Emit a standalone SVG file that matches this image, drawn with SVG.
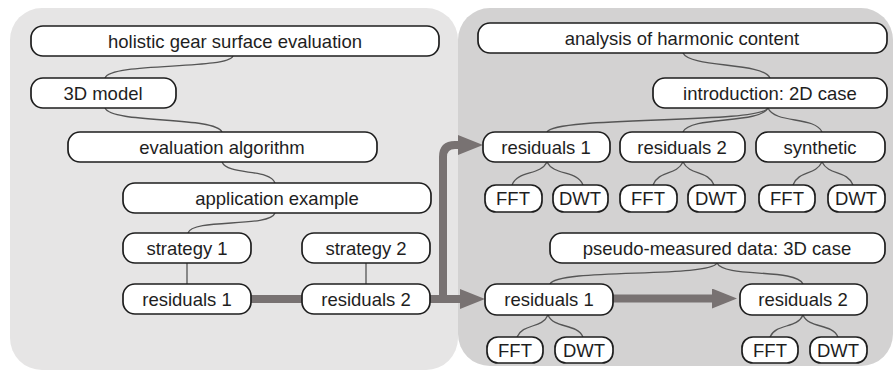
<svg xmlns="http://www.w3.org/2000/svg" width="895" height="371" viewBox="0 0 895 371">
<style>
.node rect{fill:#fff;stroke:#1e1e1e;stroke-width:1.7}
.node text{font-family:"Liberation Sans",Arial,sans-serif;font-size:18.5px;fill:#1e1e1e;text-anchor:middle}
.thin path{fill:none;stroke:#555;stroke-width:1.3}
.thick path{fill:none;stroke:#787272;stroke-width:8}
</style>
<defs>
<marker id="ah" markerUnits="userSpaceOnUse" viewBox="0 0 25 20" refX="0" refY="10" markerWidth="25" markerHeight="20" orient="auto">
<path d="M0,0 L25,10 L0,20 z" fill="#787272"/>
</marker>
</defs>
<rect x="458" y="8" width="435" height="358" rx="32" fill="#d3d2d2"/>
<rect x="10" y="8" width="448" height="362" rx="32" fill="#e6e5e5"/>

<g id="connectors">
<g class="thin">
<path d="M233,56 C228,70 110,62 105,78"/>
<path d="M105,108 C112,124 215,116 222,132"/>
<path d="M222,162 C228,176 270,168 275,183"/>
<path d="M275,213 C270,228 192,218 188,233"/>
<path d="M187,263 V284"/>
<path d="M366,263 V284"/>
<path d="M683,53 C690,68 763,62 770,78"/>
<path d="M768,108 C760,124 555,116 547,132"/>
<path d="M768,108 C760,124 690,116 683,132"/>
<path d="M768,108 C775,124 815,116 822,132"/>
<path d="M547,162 C540,176 518,170 512,185"/>
<path d="M547,162 C554,176 577,170 583,185"/>
<path d="M683,162 C676,176 659,170 653,185"/>
<path d="M683,162 C690,176 708,170 714,185"/>
<path d="M822,162 C815,176 799,170 793,185"/>
<path d="M822,162 C829,176 847,170 853,185"/>
<path d="M717,263 C710,278 557,268 550,284"/>
<path d="M717,263 C724,278 796,268 803,284"/>
<path d="M548,315 C542,329 523,323 517,337"/>
<path d="M548,315 C554,329 577,323 583,337"/>
<path d="M803,315 C797,329 776,323 770,337"/>
<path d="M803,315 C809,329 832,323 838,337"/>
</g>
<g class="thick">
<path d="M251,299 H302" stroke-width="7"/>
<path d="M430,299 H443 V157 Q443,145 455,145 H458" marker-end="url(#ah)"/>
<path d="M443,299 H460" marker-end="url(#ah)"/>
<path d="M613,298.5 H712" marker-end="url(#ah)"/>
</g>
</g>

<g id="n_holistic" class="node"><rect x="31" y="26" width="408" height="30" rx="12"/><text x="235" y="47.5">holistic gear surface evaluation</text></g>
<g id="n_3d" class="node"><rect x="31" y="78" width="145" height="30" rx="12"/><text x="103" y="99.5">3D model</text></g>
<g id="n_evalalg" class="node"><rect x="68" y="132" width="309" height="30" rx="12"/><text x="222" y="153.5">evaluation algorithm</text></g>
<g id="n_app" class="node"><rect x="123" y="183" width="308" height="30" rx="12"/><text x="277" y="204.5">application example</text></g>
<g id="n_s1" class="node"><rect x="123" y="233" width="128" height="30" rx="12"/><text x="187" y="254.5">strategy 1</text></g>
<g id="n_s2" class="node"><rect x="302" y="233" width="128" height="30" rx="12"/><text x="366" y="254.5">strategy 2</text></g>
<g id="n_lr1" class="node"><rect x="123" y="284" width="128" height="30" rx="12"/><text x="187" y="305.5">residuals 1</text></g>
<g id="n_lr2" class="node"><rect x="302" y="284" width="128" height="30" rx="12"/><text x="366" y="305.5">residuals 2</text></g>

<g id="n_analysis" class="node"><rect x="478" y="23" width="409" height="30" rx="12"/><text x="682" y="44.5">analysis of harmonic content</text></g>
<g id="n_intro" class="node"><rect x="653" y="78" width="234" height="30" rx="12"/><text x="770" y="99.5">introduction: 2D case</text></g>
<g id="n_r1" class="node"><rect x="483" y="132" width="127" height="30" rx="12"/><text x="546" y="153.5">residuals 1</text></g>
<g id="n_r2" class="node"><rect x="620" y="132" width="125" height="30" rx="12"/><text x="682" y="153.5">residuals 2</text></g>
<g id="n_syn" class="node"><rect x="756" y="132" width="129" height="30" rx="12"/><text x="820" y="153.5">synthetic</text></g>
<g id="n_fft1" class="node"><rect x="485" y="185" width="57" height="27" rx="11"/><text x="513" y="205">FFT</text></g>
<g id="n_dwt1" class="node"><rect x="553" y="185" width="55" height="27" rx="11"/><text x="580" y="205">DWT</text></g>
<g id="n_fft2" class="node"><rect x="620" y="185" width="57" height="27" rx="11"/><text x="648" y="205">FFT</text></g>
<g id="n_dwt2" class="node"><rect x="688" y="185" width="57" height="27" rx="11"/><text x="716" y="205">DWT</text></g>
<g id="n_fft3" class="node"><rect x="759" y="185" width="56" height="27" rx="11"/><text x="787" y="205">FFT</text></g>
<g id="n_dwt3" class="node"><rect x="828" y="185" width="57" height="27" rx="11"/><text x="856" y="205">DWT</text></g>
<g id="n_pseudo" class="node"><rect x="550" y="233" width="335" height="30" rx="12"/><text x="717" y="254.5">pseudo-measured data: 3D case</text></g>
<g id="n_pr1" class="node"><rect x="485" y="284" width="128" height="31" rx="12"/><text x="549" y="305.5">residuals 1</text></g>
<g id="n_pr2" class="node"><rect x="740" y="284" width="127" height="31" rx="12"/><text x="803" y="305.5">residuals 2</text></g>
<g id="n_fft4" class="node"><rect x="487" y="337" width="56" height="26" rx="11"/><text x="515" y="356.5">FFT</text></g>
<g id="n_dwt4" class="node"><rect x="555" y="337" width="58" height="26" rx="11"/><text x="584" y="356.5">DWT</text></g>
<g id="n_fft5" class="node"><rect x="742" y="337" width="56" height="26" rx="11"/><text x="770" y="356.5">FFT</text></g>
<g id="n_dwt5" class="node"><rect x="810" y="337" width="57" height="26" rx="11"/><text x="838" y="356.5">DWT</text></g>
</svg>
